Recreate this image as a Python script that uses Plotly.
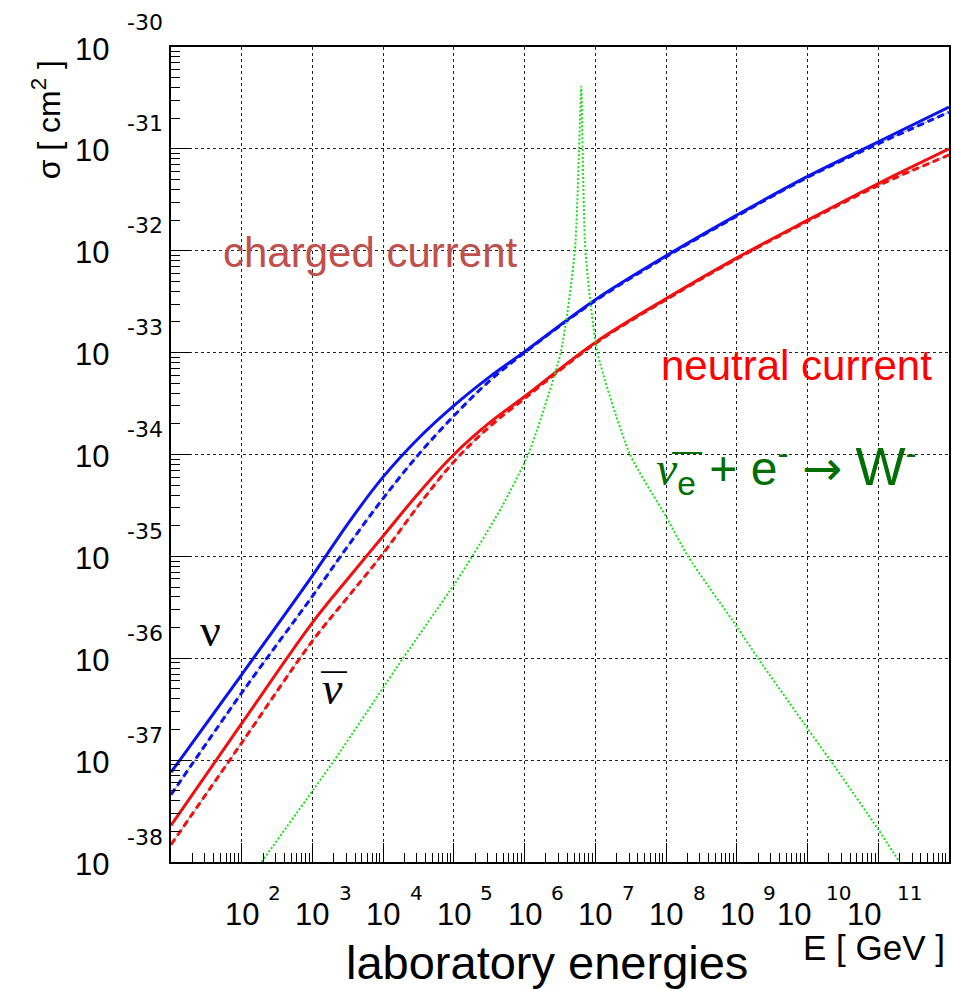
import numpy as np
import plotly.graph_objects as go

# ---------------- data (log10 units) ----------------
# energy grid for the DIS cross sections, log10(E / GeV)
LOG_E = [1, 2, 3, 3.5, 4, 4.5, 5, 5.5, 6, 7, 8, 9, 10, 11, 12]
# log10(sigma / cm^2)
LOG_SIGMA_NU_CC = [-37.12, -36.16, -35.19, -34.68, -34.22, -33.84, -33.52, -33.24,
                   -32.99, -32.48, -32.05, -31.65, -31.27, -30.93, -30.59]
LOG_SIGMA_NUBAR_CC = [-37.34, -36.34, -35.39, -34.90, -34.43, -34.00, -33.62, -33.28,
                      -33.00, -32.49, -32.06, -31.66, -31.28, -30.95, -30.64]
LOG_SIGMA_NU_NC = [-37.64, -36.64, -35.65, -35.22, -34.80, -34.38, -34.00, -33.69,
                   -33.43, -32.90, -32.47, -32.07, -31.70, -31.34, -31.00]
LOG_SIGMA_NUBAR_NC = [-37.83, -36.83, -35.83, -35.40, -34.97, -34.50, -34.07, -33.73,
                      -33.45, -32.91, -32.48, -32.08, -31.71, -31.36, -31.06]

# Glashow resonance  anti-nu_e + e-  ->  W-
LOG_E_W = [2.28, 3.31, 4.28, 5.00, 5.26, 5.68, 6.05, 6.51, 6.71, 6.77, 6.80,
           6.82, 6.86, 7.03, 7.49, 8.00, 8.31, 9.00, 9.30, 10.00, 10.32, 11.00, 11.30]
LOG_SIGMA_W = [-38.0, -37.0, -36.0, -35.28, -35.0, -34.51, -34.0, -33.0, -32.0, -31.0, -30.39,
               -31.0, -32.0, -33.0, -34.0, -34.61, -35.0, -35.69, -36.0, -36.69, -37.0, -37.68, -38.0]

X_TICK_EXP = [2, 3, 4, 5, 6, 7, 8, 9, 10, 11]
Y_TICK_EXP = [-30, -31, -32, -33, -34, -35, -36, -37, -38]

# ---------------- figure ----------------
W, H = 953, 989
ML, MR, MT, MB = 171, 2, 47, 127
PW = W - ML - MR
PH = H - MT - MB


def px(xp):
    return (xp - ML) / PW


def py(yp):
    return 1 - (yp - MT) / PH


E = np.power(10.0, LOG_E)
E_W = np.power(10.0, LOG_E_W)

fig = go.Figure()

BLUE = "#0a14f0"
RED = "#f01010"
GREEN = "#22dd22"

for ys in (LOG_SIGMA_NUBAR_CC, LOG_SIGMA_NUBAR_NC):
    fig.add_trace(go.Scatter(x=E, y=np.power(10.0, ys), mode="lines",
                             line=dict(color="#a0a0a0", width=1, shape="spline"),
                             hoverinfo="skip", showlegend=False))

fig.add_trace(go.Scatter(x=E, y=np.power(10.0, LOG_SIGMA_NUBAR_CC), mode="lines",
                         line=dict(color=BLUE, width=3, dash="7px,4px", shape="spline"),
                         name="anti-nu CC", showlegend=False))
fig.add_trace(go.Scatter(x=E, y=np.power(10.0, LOG_SIGMA_NUBAR_NC), mode="lines",
                         line=dict(color=RED, width=3, dash="7px,4px", shape="spline"),
                         name="anti-nu NC", showlegend=False))
fig.add_trace(go.Scatter(x=E, y=np.power(10.0, LOG_SIGMA_NU_CC), mode="lines",
                         line=dict(color=BLUE, width=3, shape="spline"),
                         name="nu CC", showlegend=False))
fig.add_trace(go.Scatter(x=E, y=np.power(10.0, LOG_SIGMA_NU_NC), mode="lines",
                         line=dict(color=RED, width=3, shape="spline"),
                         name="nu NC", showlegend=False))
fig.add_trace(go.Scatter(x=E_W, y=np.power(10.0, LOG_SIGMA_W), mode="lines",
                         line=dict(color=GREEN, width=2, dash="2px,2px", shape="spline", smoothing=0.6),
                         name="W resonance", showlegend=False))

axis_common = dict(
    type="log",
    dtick=1,
    showgrid=True, gridcolor="#222222", gridwidth=1, griddash="3px,3px",
    ticks="inside", ticklen=19, tickwidth=1, tickcolor="black",
    showticklabels=False,
    showline=True, linecolor="black", linewidth=1.5, mirror=True,
    zeroline=False,
    minor=dict(ticks="inside", ticklen=9, tickwidth=1, tickcolor="black",
               dtick="D1", showgrid=False),
)

fig.update_layout(
    width=W, height=H,
    margin=dict(l=ML, r=MR, t=MT, b=MB),
    plot_bgcolor="white", paper_bgcolor="white",
    xaxis=dict(range=[1, 12], **axis_common),
    yaxis=dict(range=[-38, -30], **axis_common),
    font=dict(family="Liberation Sans, Arial, sans-serif", color="black"),
)

ann = []
BASE_FONT = dict(family="Liberation Sans, Arial", size=31, color="black")
EXP_FONT_Y = dict(family="DejaVu Sans", size=22, color="black")
EXP_FONT_X = dict(family="DejaVu Sans", size=20, color="black")

# x tick labels (ROOT style: "10" with the exponent up right)
for k in X_TICK_EXP:
    two = k >= 10
    ann.append(dict(x=k, xref="x", y=0, yref="paper", text="10", showarrow=False,
                    xanchor="center", yanchor="middle", xshift=-14 if two else 0, yshift=-52,
                    font=BASE_FONT))
    ann.append(dict(x=k, xref="x", y=0, yref="paper", text=str(k), showarrow=False,
                    xanchor="center", yanchor="middle", xshift=31 if two else 33, yshift=-31,
                    font=EXP_FONT_X))

# y tick labels
for k in Y_TICK_EXP:
    ann.append(dict(x=0, xref="paper", y=k, yref="y", text="10", showarrow=False,
                    xanchor="right", yanchor="middle", xshift=-60, yshift=-2,
                    font=BASE_FONT))
    ann.append(dict(x=0, xref="paper", y=k, yref="y", text=str(k), showarrow=False,
                    xanchor="center", yanchor="middle", xshift=-26, yshift=25,
                    font=EXP_FONT_Y))

# axis titles
ann.append(dict(x=px(548), y=py(962), xref="paper", yref="paper", text="laboratory energies",
                showarrow=False, xanchor="center", yanchor="middle",
                font=dict(family="Liberation Sans, Arial", size=47, color="black")))
ann.append(dict(x=px(876), y=py(947), xref="paper", yref="paper", text="E [ GeV ]",
                showarrow=False, xanchor="center", yanchor="middle",
                font=dict(family="Liberation Sans, Arial", size=35, color="black")))
ann.append(dict(x=px(46), y=py(120), xref="paper", yref="paper", text="σ [ cm<sup>2</sup> ]",
                showarrow=False, xanchor="center", yanchor="middle", textangle=-90,
                font=dict(family="Liberation Sans, Arial", size=32, color="black")))

# in-plot labels
ann.append(dict(x=px(371), y=py(252), xref="paper", yref="paper", text="charged current",
                showarrow=False, xanchor="center", yanchor="middle",
                font=dict(family="Liberation Sans, Arial", size=42, color="#c0504d")))
ann.append(dict(x=px(798), y=py(366), xref="paper", yref="paper", text="neutral current",
                showarrow=False, xanchor="center", yanchor="middle",
                font=dict(family="Liberation Sans, Arial", size=42, color="#ff0000")))
ann.append(dict(x=px(655), y=py(468), xref="paper", yref="paper",
                text=("<span style='font-family:Liberation Serif'><i>ν</i></span><sub>e</sub>"
                      " + e<sup>-</sup> <span style='font-family:DejaVu Sans'>→</span>"
                      " <span style='font-size:53px'>W</span><sup>-</sup>"),
                showarrow=False, xanchor="left", yanchor="middle",
                font=dict(family="Liberation Sans, Arial", size=48, color="#006e00")))
ann.append(dict(x=px(688), y=py(450), xref="paper", yref="paper", text="—",
                showarrow=False, xanchor="center", yanchor="middle",
                font=dict(family="Liberation Sans, Arial", size=30, color="#006e00")))
ann.append(dict(x=px(211), y=py(630), xref="paper", yref="paper", text="ν",
                showarrow=False, xanchor="center", yanchor="middle",
                font=dict(family="Liberation Serif", size=46, color="black")))
ann.append(dict(x=px(333), y=py(688), xref="paper", yref="paper", text="<i>ν</i>",
                showarrow=False, xanchor="center", yanchor="middle",
                font=dict(family="Liberation Serif", size=46, color="black")))
ann.append(dict(x=px(334), y=py(670), xref="paper", yref="paper", text="—",
                showarrow=False, xanchor="center", yanchor="middle",
                font=dict(family="Liberation Sans, Arial", size=26, color="black")))

fig.update_layout(annotations=ann)
fig.write_html("out.html", config={"displayModeBar": False},
               post_script="document.body.style.margin='0px';document.body.style.overflow='hidden';")
